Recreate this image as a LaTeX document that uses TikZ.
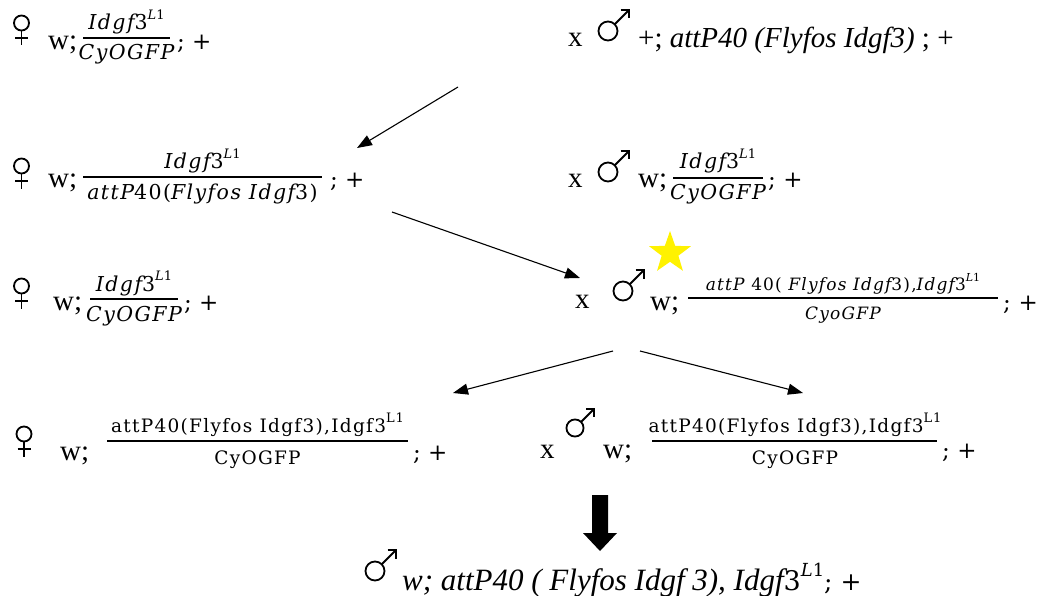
\documentclass[tikz,border=0pt]{standalone}
\usepackage{fontspec}
\setmainfont{Liberation Serif}
\newfontfamily\cam{DejaVu Serif}
\newfontfamily\camw{DejaVu Serif}[LetterSpace=7]
\usetikzlibrary{arrows.meta,shapes.geometric}
\newcommand\fs[1]{\fontsize{#1}{#1}\selectfont}
\newcommand\sups[2]{\raisebox{#1}{\fs{#2}\itshape L\upshape 1}}
\newcommand\Idg{\itshape Idgf\upshape 3\sups{0.5em}{13}}
\newcommand\semp{{\cam\fs{23}; +}}
\tikzset{
  tx/.style={inner sep=0pt, anchor=base west, font=\fs{29}},
  fr/.style={inner sep=0pt, anchor=base, font=\camw\fs{20.5}},
  frs/.style={inner sep=0pt, anchor=base, font=\camw\fs{17}},
  fru/.style={inner sep=0pt, anchor=base, font=\camw\fs{18.5}},
  bar/.style={line width=1.8pt},
  symline/.style={line width=1.8pt},
  arr/.style={line width=1.1pt, -{Triangle[length=15pt,width=11pt]}},
  fem/.pic={\draw[symline] (0,0) circle (7.5); \draw[symline] (0,7.5) -- (0,22.5); \draw[symline] (-6.5,15) -- (6.5,15);},
  mal/.pic={\draw[symline] (0,0) circle (9.5); \draw[symline] (6.7,-6.7) -- (21,-21); \draw[symline] (12.5,-21) -- (21,-21) -- (21,-12.5);},
}
\begin{document}
\begin{tikzpicture}[x=1pt,y=-1pt]
\useasboundingbox (0,0) rectangle (1051,596);
% ---------- row 1 left
\pic[name=fem1] at (21.5,23) {fem};
\node[tx] (w1) at (48,50) {w;};
\node[fr] (n1) at (126.5,30) {\Idg};
\node[fr] (d1) at (126.5,60) {\itshape CyOGFP};
\coordinate (b1a) at (83,38); \coordinate (b1b) at (170,38);
\draw[bar] (b1a) -- (b1b);
\node[tx] (p1) at (177,50) {\semp};
% ---------- row 1 right
\node[tx] (x1) at (568,47) {x};
\pic[name=mal1] at (608,31) {mal};
\node[tx] (t1) at (638,48) {+; \textit{attP40 (Flyfos Idgf3)} ; +};
% ---------- row 2 left
\pic[name=fem2] at (21.5,166) {fem};
\node[tx] (w2) at (48,187) {w;};
\node[fr] (n2) at (202.5,169) {\Idg};
\node[fr] (d2) at (202.5,200) {\itshape attP\upshape 40(\itshape Flyfos Idgf\upshape 3)};
\coordinate (b2a) at (83,177); \coordinate (b2b) at (322,177);
\draw[bar] (b2a) -- (b2b);
\node[tx] (p2) at (330,187) {\semp};
% ---------- row 2 right
\node[tx] (x2) at (568,187) {x};
\pic[name=mal2] at (608,172) {mal};
\node[tx] (w2r) at (638,187) {w;};
\node[fr] (n2r) at (718,169) {\Idg};
\node[fr] (d2r) at (718,200) {\itshape CyOGFP};
\coordinate (b2c) at (673,178); \coordinate (b2d) at (763,178);
\draw[bar] (b2c) -- (b2d);
\node[tx] (p2r) at (768,187) {\semp};
% ---------- row 3 left
\pic[name=fem3] at (21.5,286) {fem};
\node[tx] (w3) at (53,310) {w;};
\node[fr] (n3) at (134,291) {\Idg};
\node[fr] (d3) at (134,321) {\itshape CyOGFP};
\coordinate (b3a) at (90,299); \coordinate (b3b) at (178,299);
\draw[bar] (b3a) -- (b3b);
\node[tx] (p3) at (184,310) {\semp};
% ---------- row 3 right
\node[tx] (x3) at (575,308) {x};
\pic[name=mal3] at (623,291) {mal};
\node[star, star points=5, star point ratio=2.5, fill=yellow, inner sep=0pt, minimum size=44pt] (star) at (670,253) {};
\node[tx] (w3r) at (650,310) {w;};
\node[frs] (n3r) at (843,290) {\itshape attP \upshape 40( \itshape Flyfos Idgf\upshape 3),\itshape Idgf\upshape 3\sups{0.5em}{11}};
\node[frs] (d3r) at (843,319) {\itshape CyoGFP};
\coordinate (b3c) at (688,298); \coordinate (b3d) at (998,298);
\draw[bar] (b3c) -- (b3d);
\node[tx] (p3r) at (1003,310) {{\cam\fs{23};\,\,+}};
% ---------- row 4 left
\pic[name=fem4] at (24,434) {fem};
\node[tx] (w4) at (60,460) {w;};
\node[fru] (n4) at (257.5,432) {attP40(Flyfos Idgf3),Idgf3\raisebox{0.5em}{\fs{13}L1}};
\node[fru] (d4) at (257.5,464) {CyOGFP};
\coordinate (b4a) at (107,441); \coordinate (b4b) at (408,441);
\draw[bar] (b4a) -- (b4b);
\node[tx] (p4) at (413,460) {\semp};
% ---------- row 4 right
\node[tx] (x4) at (540,458) {x};
\pic[name=mal4, scale=0.9] at (575,428) {mal};
\node[tx] (w4r) at (603,458) {w;};
\node[fru] (n4r) at (795,432) {attP40(Flyfos Idgf3),Idgf3\raisebox{0.5em}{\fs{13}L1}};
\node[fru] (d4r) at (795,464) {CyOGFP};
\coordinate (b4c) at (652,441); \coordinate (b4d) at (937,441);
\draw[bar] (b4c) -- (b4d);
\node[tx] (p4r) at (942,458) {\semp};
% ---------- bottom
\pic[name=mal5] at (375,571) {mal};
\node[tx, font=\fs{31}] (t5) at (402,590) {\itshape w; attP40 ( Flyfos Idgf 3), Idgf{\cam\upshape\fs{27}3}\raisebox{0.45em}{\cam\fs{18}\itshape L\upshape 1}{\cam\upshape\fs{25}; +}};
% ---------- arrows
\coordinate (a1s) at (458,87); \coordinate (a1e) at (357,148);
\draw[arr] (a1s) -- (a1e);
\coordinate (a2s) at (392,212); \coordinate (a2e) at (580,278);
\draw[arr] (a2s) -- (a2e);
\coordinate (a3s) at (613,351); \coordinate (a3e) at (453,393);
\draw[arr] (a3s) -- (a3e);
\coordinate (a4s) at (640,351); \coordinate (a4e) at (803,393);
\draw[arr] (a4s) -- (a4e);
\fill (592,495) -- (608,495) -- (608,533) -- (617,533) -- (600,551) -- (583,533) -- (592,533) -- cycle;
\end{tikzpicture}
\end{document}
